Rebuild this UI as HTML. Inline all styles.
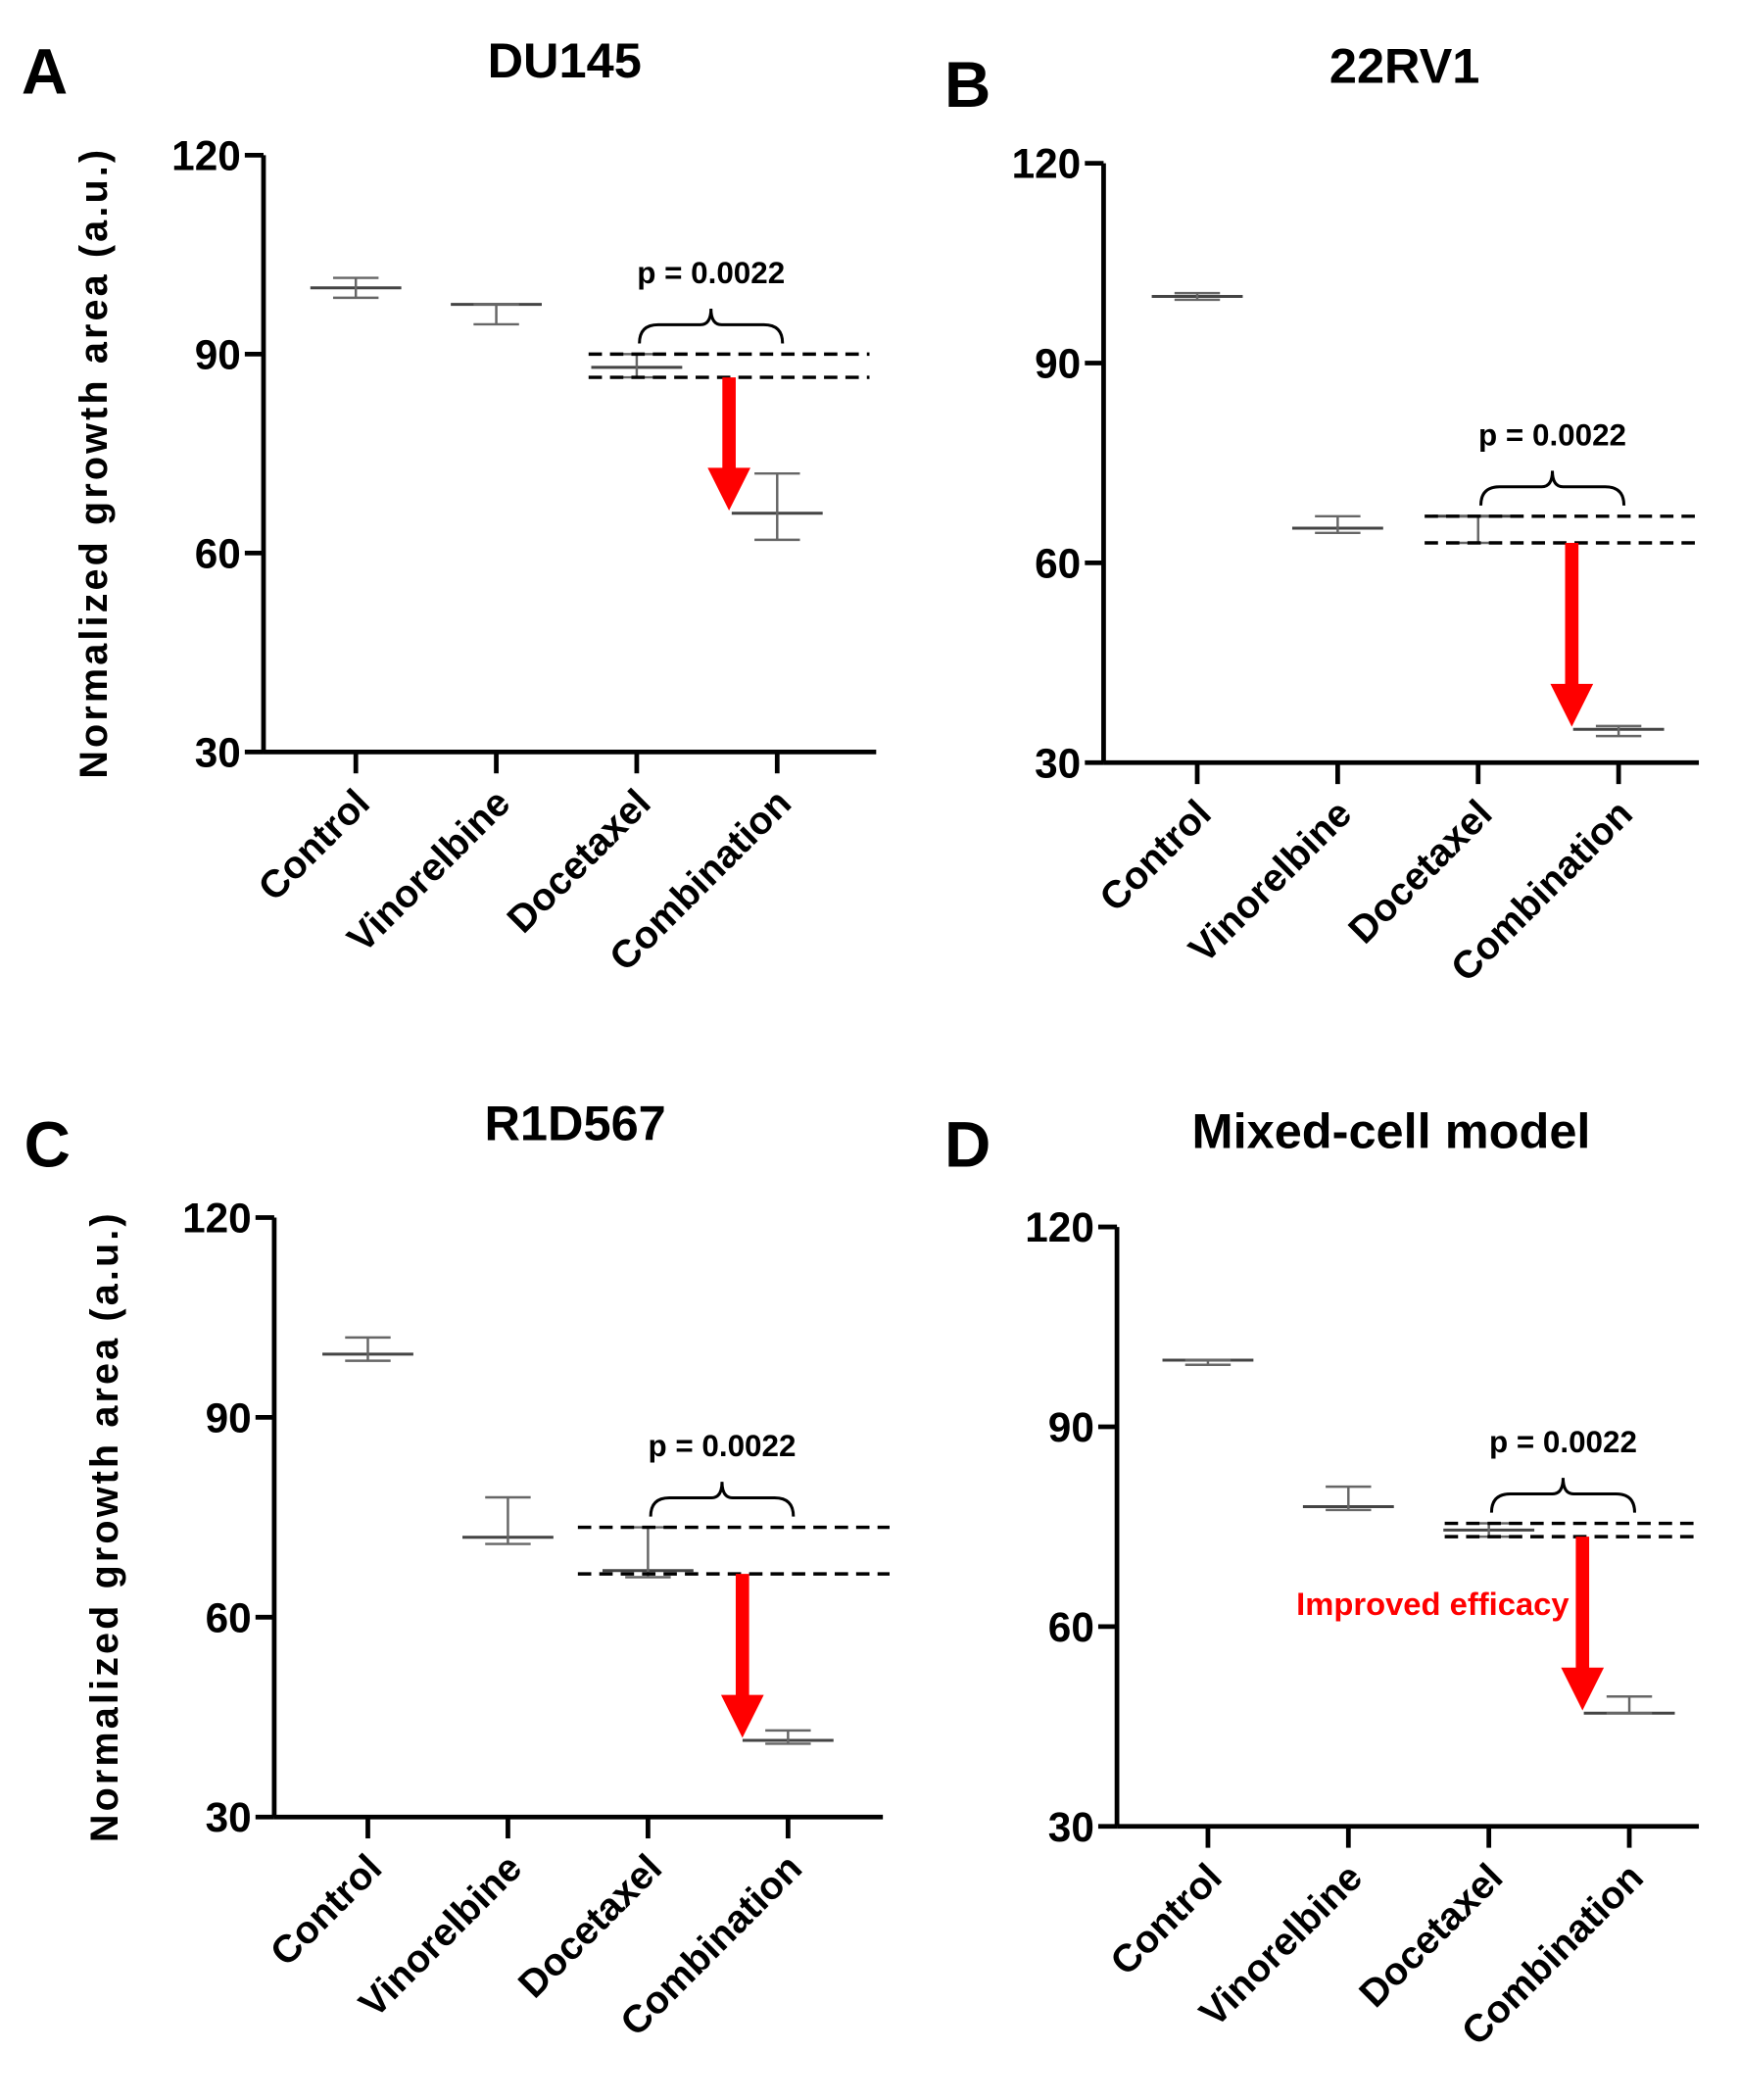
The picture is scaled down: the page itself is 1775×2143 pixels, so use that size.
<!DOCTYPE html>
<html><head><meta charset="utf-8"><style>
html,body{margin:0;padding:0;background:#fff}
svg{display:block}
text{font-family:"Liberation Sans",Arial,sans-serif;font-weight:bold}
</style></head><body>
<svg id="fig" width="1775" height="2143" viewBox="0 0 1300 1569.5" xmlns="http://www.w3.org/2000/svg"></svg>
<script>
const categories = ["Control","Vinorelbine","Docetaxel","Combination"];
const yTicks = [30,60,90,120];
const titles = ["DU145","22RV1","R1D567","Mixed-cell model"];
const letters = ["A","B","C","D"];
const meansA = [100,97.5,88,66];
const errLoA = [98.5,94.5,86.5,62];
const errHiA = [101.5,97.5,90,72];
const meansB = [100,65.2,67,35];
const errLoB = [99.5,64.5,63,34];
const errHiB = [100.5,67,67,35.5];
const meansC = [99.5,72,67,41.5];
const errLoC = [98.5,71,66,41];
const errHiC = [102,78,73.5,43];
const meansD = [100,78,74.5,47];
const errLoD = [99.3,77.5,73.5,47];
const errHiD = [100,81,75.5,49.5];
const dashHi = [90,67,73.5,75.5];
const dashLo = [86.5,63,66.5,73.5];
const pLabel = "p = 0.0022";

const layout = [
 {ax:197,top:116,bot:562,right:655,cat0:266,step:105,tx:422,ty:58,lx:16,ly:70,dashX0:440,dashX1:650,ylab:true,arx:545},
 {ax:825,top:122,bot:570,right:1270,cat0:895,step:105,tx:1050,ty:62,lx:706,ly:80,dashX0:1065,dashX1:1268,ylab:false,arx:1175},
 {ax:205,top:910,bot:1358,right:660,cat0:275,step:104.7,tx:430,ty:852,lx:18,ly:872,dashX0:432,dashX1:665,ylab:true,arx:555},
 {ax:835,top:917,bot:1365,right:1270,cat0:903,step:105,tx:1040,ty:858,lx:706,ly:872,dashX0:1080,dashX1:1268,ylab:false,arx:1183}
];
const means=[meansA,meansB,meansC,meansD], lo=[errLoA,errLoB,errLoC,errLoD], hi=[errHiA,errHiB,errHiC,errHiD];
const svg=document.getElementById('fig');
const NS="http://www.w3.org/2000/svg";
function mk(tag,attrs,parent,txt){const e=document.createElementNS(NS,tag);for(const k in attrs)e.setAttribute(k,attrs[k]);if(txt!==undefined)e.textContent=txt;parent.appendChild(e);return e;}

layout.forEach((L,p)=>{
  const g=mk('g',{},svg);
  
  
  const y=v=>L.bot-(v-30)/90*(L.bot-L.top);
  const x=i=>L.cat0+i*L.step;
  const lt=mk('text',{x:L.lx,y:L.ly,'font-size':48},g,letters[p]);
  
  
  const t=mk('text',{x:L.tx,y:L.ty,'font-size':37,'text-anchor':'middle'},g,titles[p]);
  
  
  const ya=mk('line',{x1:L.ax,y1:L.top,x2:L.ax,y2:L.bot,stroke:'#000','stroke-width':3.5},g);
  
  
  const xa=mk('line',{x1:L.ax,y1:L.bot,x2:L.right,y2:L.bot,stroke:'#000','stroke-width':3.5},g);
  
  
  yTicks.forEach(v=>{
    mk('line',{x1:L.ax-14,y1:y(v),x2:L.ax,y2:y(v),stroke:'#000','stroke-width':3.5},g);
    const tl=mk('text',{x:L.ax-17,y:y(v)+11,'font-size':31,'text-anchor':'end'},g,String(v));
    
    
  });
  if(L.ylab){
    const yl=mk('text',{x:0,y:0,'font-size':29,'text-anchor':'middle',textLength:470,transform:`translate(${L.ax-117},${(L.top+L.bot)/2+8}) rotate(-90)`},g,'Normalized growth area (a.u.)');
    
    
  }
  categories.forEach((c,i)=>{
    mk('line',{x1:x(i),y1:L.bot,x2:x(i),y2:L.bot+16,stroke:'#000','stroke-width':3.5},g);
    const cl=mk('text',{x:0,y:0,'font-size':29,'text-anchor':'end',transform:`translate(${x(i)+12},${L.bot+40}) rotate(-45)`},g,c);
    
    
    const m=mk('line',{x1:x(i)-34,y1:y(means[p][i]),x2:x(i)+34,y2:y(means[p][i]),stroke:'#444','stroke-width':2.2},g);
    
    
    const e=mk('path',{d:`M${x(i)},${y(lo[p][i])}V${y(hi[p][i])}M${x(i)-17},${y(lo[p][i])}h34M${x(i)-17},${y(hi[p][i])}h34`,stroke:'#666','stroke-width':1.8,fill:'none'},g);
    
    
  });
  [dashHi[p],dashLo[p]].forEach(v=>{
    const d=mk('line',{x1:L.dashX0,y1:y(v),x2:L.dashX1,y2:y(v),stroke:'#000','stroke-width':2.5,'stroke-dasharray':'10,6'},g);
    
    
  });
  const bx0=x(2)+2,bx1=x(3)+4,by=y(dashHi[p])-8,bm=(bx0+bx1)/2;
  const br=mk('path',{d:`M${bx0},${by} q0,-14 14,-14 H${bm-8} q8,0 8,-12 q0,12 8,12 H${bx1-14} q14,0 14,14`,stroke:'#000','stroke-width':2.2,fill:'none'},g);
  
  
  const pt=mk('text',{x:bm,y:by-45,'font-size':23,'text-anchor':'middle'},g,pLabel);
  
  
  const axx=L.arx;
  const a0=y(dashLo[p]),a1=y(means[p][3])-2;
  const ar=mk('path',{d:`M${axx-5},${a0}V${a1-32}h-11l16,32l16,-32h-11V${a0}Z`,fill:'#f00'},g);
  
  
  if(p===3){
    const it=mk('text',{x:axx-10,y:1207,'font-size':24,'text-anchor':'end',fill:'#f00'},g,'Improved efficacy');
    
    
  }
});
</script>
</body></html>
